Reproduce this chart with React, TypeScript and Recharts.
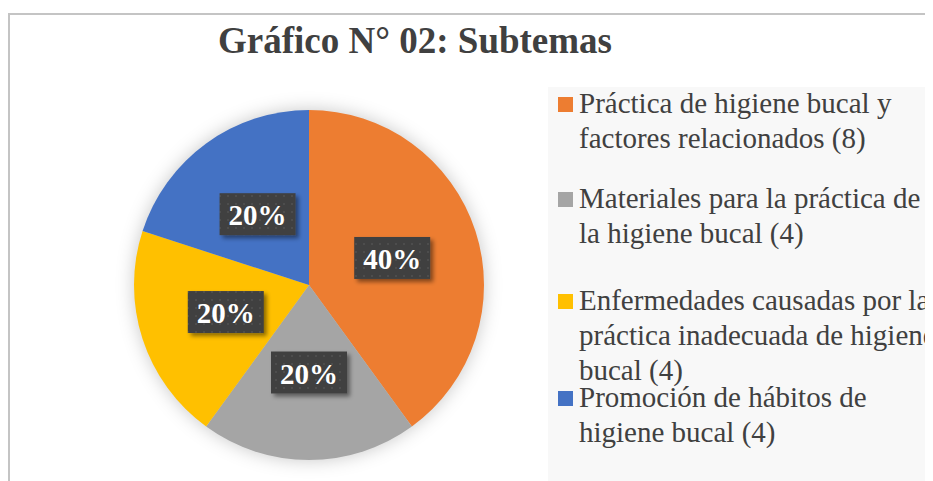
import React from 'react';
import { PieChart, Pie, Cell, Legend } from 'recharts';

const chartTitle = 'Gráfico N° 02: Subtemas';
const categories = [
  'Práctica de higiene bucal y factores relacionados',
  'Materiales para la práctica de la higiene bucal',
  'Enfermedades causadas por la práctica inadecuada de higiene bucal',
  'Promoción de hábitos de higiene bucal',
];
const counts = [8, 4, 4, 4];
const colors = ['#ED7D31', '#A5A5A5', '#FFC000', '#4472C4'];

const data = categories.map((name, i) => ({ name, value: counts[i] }));

const RAD = Math.PI / 180;
const serif = '"Liberation Serif", "Times New Roman", serif';

// legend item positions inside the legend box (baseline of first line)
const legendBaselines = [26, 121, 223, 320];

const renderLabel = (props: any) => {
  const { cx, cy, midAngle, outerRadius, percent } = props;
  const r = outerRadius * 0.5;
  const x = cx + r * Math.cos(-midAngle * RAD);
  const y = cy + r * Math.sin(-midAngle * RAD);
  return (
    <g>
      <rect x={x - 38} y={y - 21} width={76} height={42} fill="url(#dots)" filter="url(#boxShadow)" />
      <text
        x={x}
        y={y + 1}
        textAnchor="middle"
        dominantBaseline="central"
        fill="#ffffff"
        fontFamily={serif}
        fontWeight="bold"
        fontSize={29}
      >
        {`${Math.round(percent * 100)}%`}
      </text>
    </g>
  );
};

const renderLegend = () => (
  <div style={{ position: 'relative', width: '100%', height: '100%' }}>
    {data.map((d, i) => (
      <div key={d.name}>
        <div
          style={{
            position: 'absolute',
            left: 10,
            top: legendBaselines[i] - 16,
            width: 15,
            height: 15,
            background: colors[i],
          }}
        />
        <div
          style={{
            position: 'absolute',
            left: 31,
            top: legendBaselines[i] - 27.3,
            width: 363,
            fontFamily: serif,
            fontSize: 29,
            lineHeight: '35px',
            color: '#404040',
            textAlign: 'left',
          }}
        >
          {`${d.name} (${d.value})`}
        </div>
      </div>
    ))}
  </div>
);

export default function App() {
  return (
    <div style={{ position: 'relative', width: 925, height: 473, overflow: 'hidden' }}>
      <style>{`.recharts-pie { filter: drop-shadow(0 0 9px rgba(0,0,0,0.22)); }`}</style>
      <svg width={0} height={0} style={{ position: 'absolute' }}>
        <defs>
          <pattern id="dots" width={8} height={8} patternUnits="userSpaceOnUse">
            <rect width={8} height={8} fill="#404040" />
            <rect x={3} y={3} width={2} height={2} fill="#4d4d4d" />
          </pattern>
          <filter id="boxShadow" x="-20%" y="-30%" width="150%" height="180%">
            <feDropShadow dx={3} dy={3} stdDeviation={2} floodColor="#000" floodOpacity={0.45} />
          </filter>
        </defs>
      </svg>
      <div
        style={{
          position: 'absolute',
          left: 0,
          top: 5,
          width: 1000,
          height: 1000,
          border: '2px solid #c4c4c4',
        }}
      />
      <div
        style={{
          position: 'absolute',
          left: 0,
          top: 12.5,
          width: 814,
          textAlign: 'center',
          fontFamily: serif,
          fontWeight: 'bold',
          fontSize: 37,
          lineHeight: '40px',
          color: '#404040',
        }}
      >
        {chartTitle}
      </div>
      <div style={{ position: 'absolute', left: 0, top: 0 }}>
        <PieChart width={925} height={473} margin={{ top: 0, right: 0, bottom: 0, left: 0 }}>
          <Pie
            data={data}
            dataKey="value"
            nameKey="name"
            cx={301}
            cy={277}
            outerRadius={175}
            startAngle={90}
            endAngle={-270}
            stroke="none"
            label={renderLabel}
            labelLine={false}
            isAnimationActive={false}
          >
            {data.map((d, i) => (
              <Cell key={d.name} fill={colors[i]} />
            ))}
          </Pie>
          <Legend
            layout="vertical"
            align="right"
            verticalAlign="middle"
            content={renderLegend}
            wrapperStyle={{
              position: 'absolute',
              left: 540,
              top: 79,
              width: 385,
              height: 394,
              margin: 0,
              backgroundColor: '#f8f8f8',
            }}
          />
        </PieChart>
      </div>
    </div>
  );
}
